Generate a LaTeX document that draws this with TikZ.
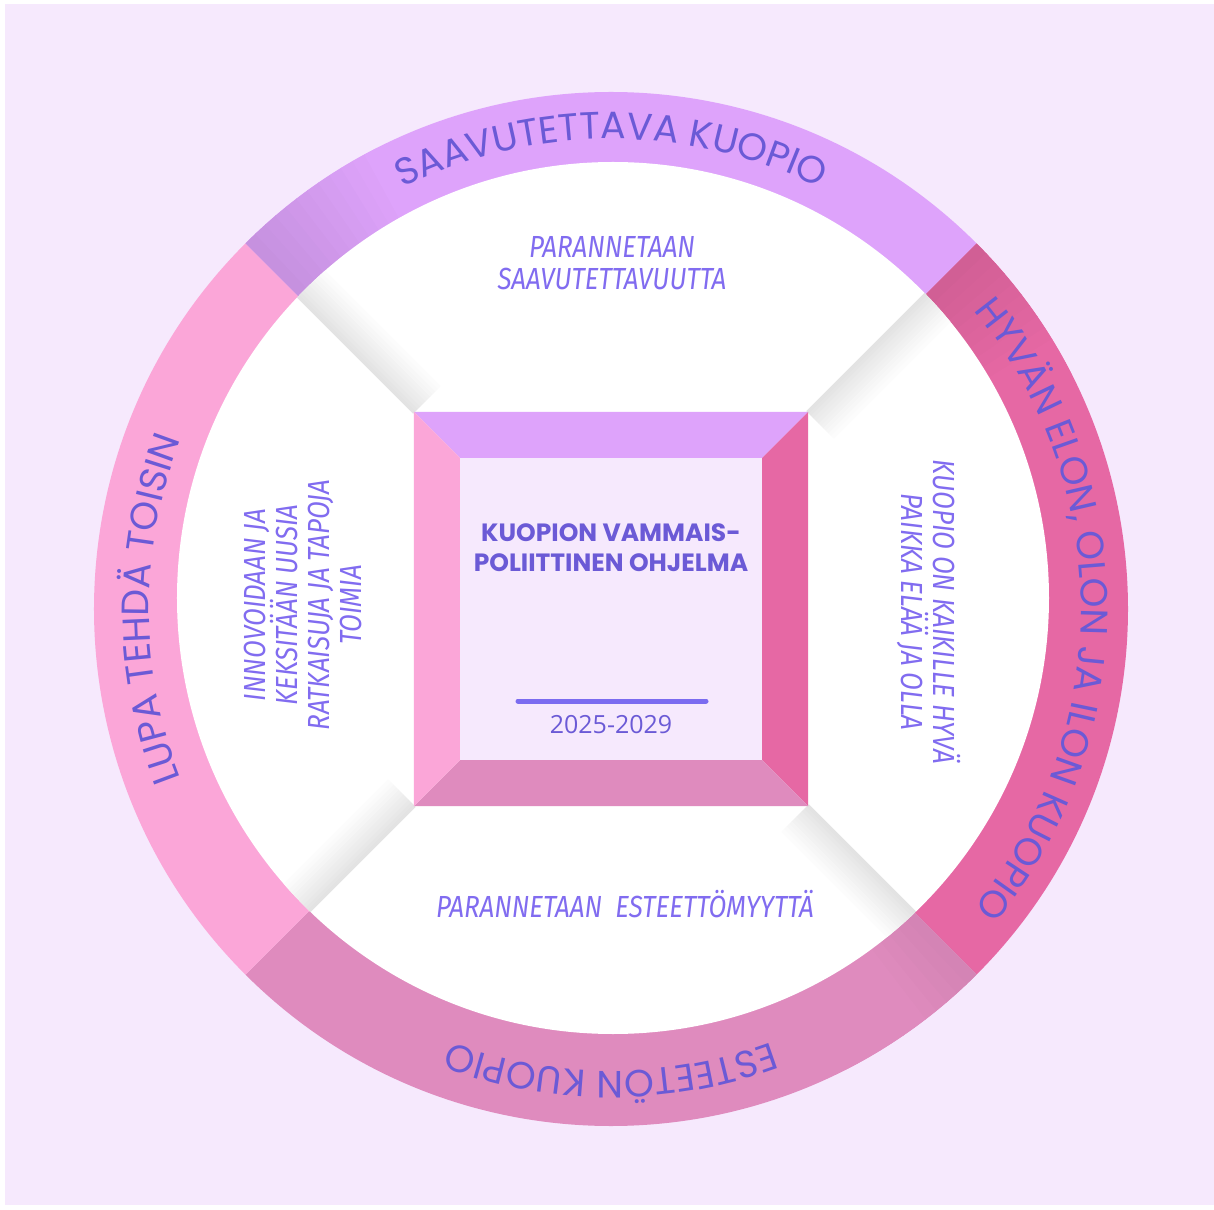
\documentclass[tikz,border=0pt]{standalone}
\usepackage{fontspec}
\usepackage{tikz}
\usetikzlibrary{decorations.text}
\definecolor{bg_lav}{HTML}{F6E9FD}
\definecolor{seg_top}{HTML}{DEA3FB}
\definecolor{seg_right}{HTML}{E668A4}
\definecolor{seg_bottom}{HTML}{DF8BBE}
\definecolor{seg_left}{HTML}{FBA6D8}
\definecolor{txt_violet}{HTML}{6B5AD6}
\definecolor{txt_hand}{HTML}{816CF0}
\definecolor{rule_violet}{HTML}{7B6CF0}
\newfontfamily\ringfont{Poppins}
\newfontfamily\titlefont{Poppins}
\newfontfamily\yearfont{Open Sans}
\newfontfamily\handfont{Fira Sans}[FakeStretch=0.85]
\tikzset{
  ring_text/.style={decorate, decoration={text along path, text align=center,
      text color=txt_violet, text={|\ringfont\fontsize{38}{40}\selectfont|#1}}},
  hand_text/.style={align=center, text=txt_hand, inner sep=0pt,
      font=\handfont\itshape\fontsize{30.5}{32}\selectfont},
  title_text/.style={align=center, text=txt_violet, inner sep=0pt,
      font=\titlefont\bfseries\fontsize{25}{30}\selectfont},
  year_text/.style={text=txt_violet, inner sep=0pt, font=\yearfont\fontsize{25}{30}\selectfont},
  year_rule/.style={rule_violet, line width=5pt, line cap=round}
}
\begin{document}
\begin{tikzpicture}[x=1pt, y=1pt]
\path (0,0) coordinate (ctr);
\useasboundingbox (-611,609) rectangle (603,-600);
\fill[white] (-611,609) rectangle (603,-600);
\fill[bg_lav] (-606,605) rectangle (603,-596);

% outer ring, four quarters
\fill[seg_top]    (ctr) -- (135:517) arc[start angle=135, end angle=45, radius=517] -- cycle;
\fill[seg_right]  (ctr) -- (45:517) arc[start angle=45, end angle=-45, radius=517] -- cycle;
\fill[seg_bottom] (ctr) -- (-45:517) arc[start angle=-45, end angle=-135, radius=517] -- cycle;
\fill[seg_left]   (ctr) -- (225:517) arc[start angle=225, end angle=135, radius=517] -- cycle;
% darker start of each quarter
\foreach \segang/\segcol/\segbase in {135/seg_top/89, 45/seg_right/91, -45/seg_bottom/95}{
  \foreach \nn in {0,...,11}{
    \pgfmathtruncatemacro{\pc}{min(100,\segbase+\nn)}
    \fill[\segcol!\pc!black] (ctr) -- (\segang-1.5*\nn:517)
      arc[start angle=\segang-1.5*\nn, end angle=\segang-1.5*\nn-1.6, radius=517] -- cycle;
  }
}

% white disk and soft diagonal shadows
\fill[white] (2,11) coordinate (disk_c) circle[radius=436];
\begin{scope}
\clip (disk_c) circle[radius=436];
\foreach \ang in {135,45,-45,-135}{
  \foreach \off in {0,...,10}{
    \pgfmathtruncatemacro{\pc}{11-\off}
    \draw[black!\pc, line width=3.6pt, rotate=\ang] (278,-3.5*\off) -- (470,-3.5*\off);
  }
}
\end{scope}

% centre frame
\path (-197,197) coordinate (sq_nw) (197,197) coordinate (sq_ne)
      (197,-197) coordinate (sq_se) (-197,-197) coordinate (sq_sw)
      (-151,151) coordinate (in_nw) (151,151) coordinate (in_ne)
      (151,-151) coordinate (in_se) (-151,-151) coordinate (in_sw);
\fill[seg_top]    (sq_nw) -- (sq_ne) -- (in_ne) -- (in_nw) -- cycle;
\fill[seg_right]  (sq_ne) -- (sq_se) -- (in_se) -- (in_ne) -- cycle;
\fill[seg_bottom] (sq_se) -- (sq_sw) -- (in_sw) -- (in_se) -- cycle;
\fill[seg_left]   (sq_sw) -- (sq_nw) -- (in_nw) -- (in_sw) -- cycle;
\fill[bg_lav] (in_nw) rectangle (in_se);

\node[title_text] (title) at (0,61) {KUOPION VAMMAIS-\\POLIITTINEN OHJELMA};
\path (-93,-92) coordinate (rule_l) (95,-92) coordinate (rule_r);
\draw[year_rule] (rule_l) -- (rule_r);
\node[year_text] (years) at (0,-116) {2025-2029};

% goals
\node[hand_text] (goal_top) at (1,346) {PARANNETAAN\\SAAVUTETTAVUUTTA};
\node[hand_text] (goal_bottom) at (14,-295) {PARANNETAAN\ \ ESTEETTÖMYYTTÄ};
\node[hand_text, rotate=90] (goal_left) at (-308,4)
  {INNOVOIDAAN JA\\KEKSITÄÄN UUSIA\\RATKAISUJA JA TAPOJA\\TOIMIA};
\node[hand_text, rotate=-90] (goal_right) at (318,-3)
  {KUOPIO ON KAIKILLE HYVÄ\\PAIKKA ELÄÄ JA OLLA};

% ring labels
\path[ring_text={SAAVUTETTAVA KUOPIO}] (135:470) arc[start angle=135, end angle=45, radius=470];
\path[ring_text={{HYVÄN ELON, OLON JA ILON KUOPIO}}] (45:470) arc[start angle=45, end angle=-45, radius=470];
\path[ring_text={ESTEETÖN KUOPIO}] (-45:462) arc[start angle=-45, end angle=-135, radius=462];
\path[ring_text={LUPA TEHDÄ TOISIN}] (225:462) arc[start angle=225, end angle=135, radius=462];
\end{tikzpicture}
\end{document}
